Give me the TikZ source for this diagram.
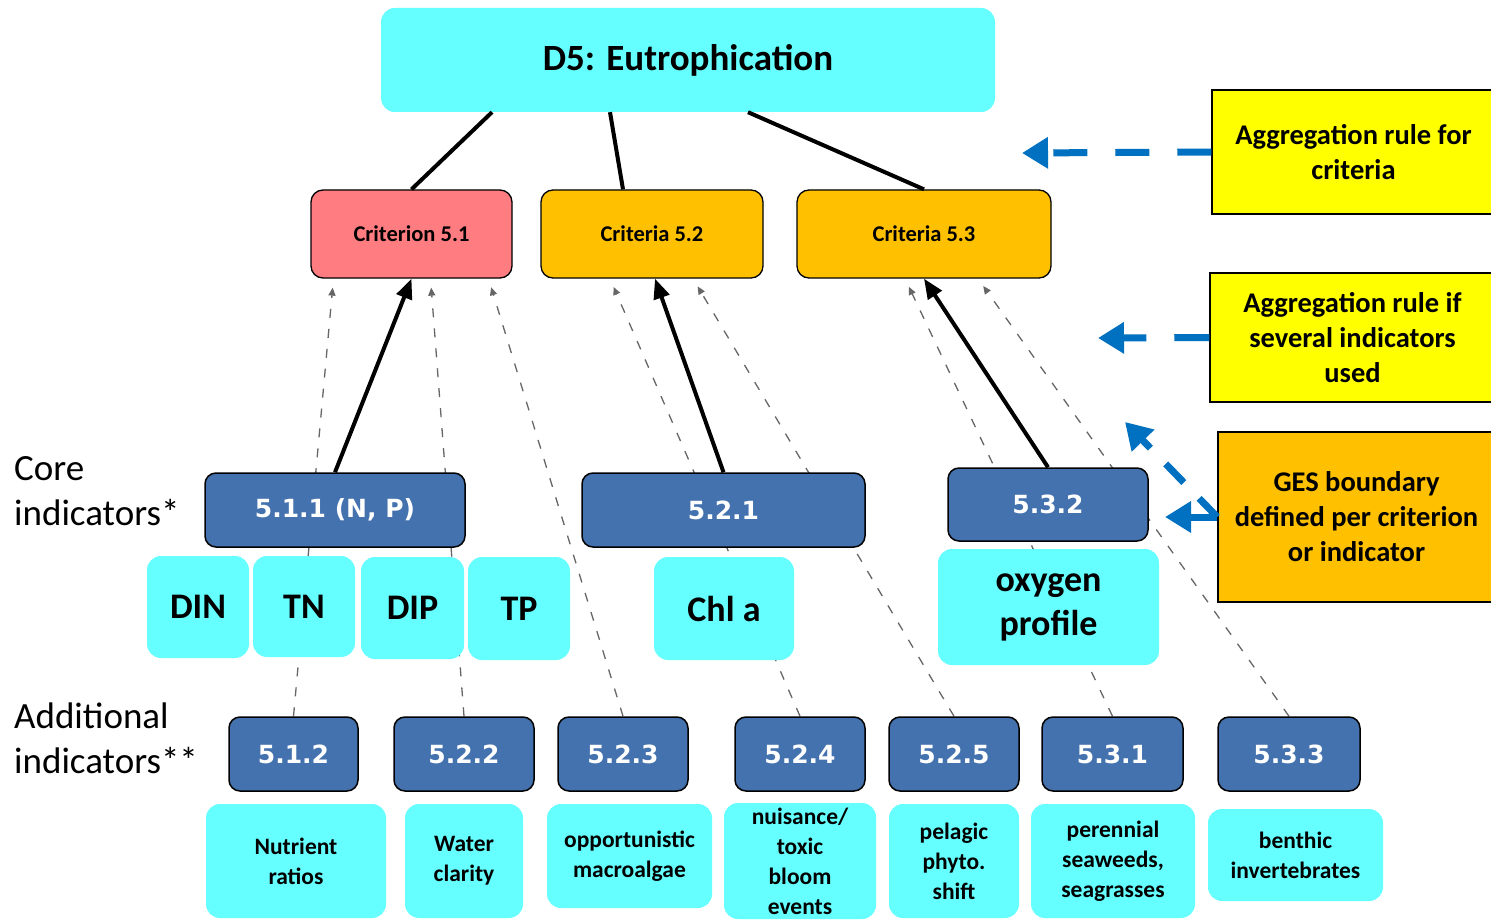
\documentclass[tikz,border=0pt]{standalone}
\usepackage{fontspec}
\setmainfont{Carlito}
\newfontfamily\codefont{DejaVu Sans}
\usetikzlibrary{positioning,arrows.meta,backgrounds}

\definecolor{tagcyan}{RGB}{102,255,255}
\definecolor{critred}{RGB}{255,124,128}
\definecolor{critorange}{RGB}{255,192,0}
\definecolor{indblue}{RGB}{68,114,174}
\definecolor{noteyellow}{RGB}{255,255,0}
\definecolor{noteblue}{RGB}{0,112,192}

\begin{document}
\begin{tikzpicture}[x=1pt, y=-1pt,
        titlebox/.style={fill=tagcyan, rounded corners=14pt, minimum width=614pt, minimum height=104pt, font=\bfseries\fontsize{37}{44}\selectfont},
        critbox/.style={draw, line width=1.3pt, rounded corners=12pt, minimum height=88pt, inner sep=0pt, font=\bfseries\fontsize{22.5}{26}\selectfont},
        indbox/.style={draw, line width=1.5pt, fill=indblue, text=white, rounded corners=11pt, minimum height=74pt, inner sep=0pt, font=\codefont\bfseries\fontsize{25}{30}\selectfont},
        bigtag/.style={fill=tagcyan, rounded corners=14pt, inner sep=0pt, align=center, font=\bfseries\fontsize{36}{44}\selectfont},
        smalltag/.style={fill=tagcyan, rounded corners=14pt, inner sep=0pt, align=center, font=\bfseries\fontsize{23.5}{30}\selectfont},
        notebox/.style={draw, line width=1.5pt, fill=noteyellow, inner sep=0pt, align=center, font=\bfseries\fontsize{28.5}{35}\selectfont},
        rowlabel/.style={anchor=west, align=left, inner sep=0pt, font=\fontsize{37}{45}\selectfont},
        link/.style={line width=4pt},
        rollup/.style={line width=4pt, -{Triangle[length=20pt,width=16pt]}},
        feed/.style={draw=black!60, line width=1.3pt, dash pattern=on 9pt off 11pt, shorten >=9pt, -{Triangle[length=8pt,width=7pt]}},
        pointer/.style={draw=noteblue, line width=7pt, -{Triangle[length=26pt,width=30pt]}}]
    \useasboundingbox (0,0) rectangle (1491,920);

    % Descriptor and criteria
    \node (D5) [titlebox] at (688,60) {D5: Eutrophication};
    \node (C51) [critbox, fill=critred, minimum width=201pt] at (411.5,234) {Criterion 5.1};
    \node (C52) [critbox, fill=critorange, minimum width=222pt] at (652,234) {Criteria 5.2};
    \node (C53) [critbox, fill=critorange, minimum width=254pt] at (924,234) {Criteria 5.3};

    % Core indicators
    \node (I511) [indbox, minimum width=260pt] at (335,510) {5.1.1 (N, P)};
    \node (I521) [indbox, minimum width=283pt] at (723.5,510) {5.2.1};
    \node (I532) [indbox, minimum width=200pt, minimum height=73pt] at (1048,504.5) {5.3.2};

    \node (DIN) [bigtag, minimum width=102pt, minimum height=102pt] at (198,607) {DIN};
    \node (TN) [bigtag, minimum width=102pt, minimum height=101pt] at (304,606.5) {TN};
    \node (DIP) [bigtag, minimum width=103pt, minimum height=102pt] at (412.5,608) {DIP};
    \node (TP) [bigtag, minimum width=102pt, minimum height=103pt] at (519,608.5) {TP};
    \node (CHL) [bigtag, minimum width=140pt, minimum height=103pt] at (724,608.5) {Chl a};
    \node (OXY) [bigtag, minimum width=221pt, minimum height=116pt] at (1048.5,607) {oxygen\\profile};

    % Additional indicators
    \node (I512) [indbox, minimum width=129pt] at (293.5,754) {5.1.2};
    \node (I522) [indbox, minimum width=140pt] at (464,754) {5.2.2};
    \node (I523) [indbox, minimum width=130pt] at (623,754) {5.2.3};
    \node (I524) [indbox, minimum width=130pt] at (800,754) {5.2.4};
    \node (I525) [indbox, minimum width=130pt] at (954,754) {5.2.5};
    \node (I531) [indbox, minimum width=141pt] at (1112.5,754) {5.3.1};
    \node (I533) [indbox, minimum width=142pt] at (1289,754) {5.3.3};

    \node (NUT) [smalltag, minimum width=180pt, minimum height=114pt] at (296,861) {Nutrient\\ratios};
    \node (WAT) [smalltag, minimum width=118pt, minimum height=114pt] at (464,861) {Water\\clarity};
    \node (MAC) [smalltag, minimum width=165pt, minimum height=104pt] at (629.5,856) {opportunistic\\macroalgae};
    \node (BLO) [smalltag, minimum width=152pt, minimum height=116pt] at (800,861) {nuisance/\\toxic\\bloom\\events};
    \node (PEL) [smalltag, minimum width=130pt, minimum height=114pt] at (954,861) {pelagic\\phyto.\\shift};
    \node (PER) [smalltag, minimum width=164pt, minimum height=114pt] at (1113,861) {perennial\\seaweeds,\\seagrasses};
    \node (BEN) [smalltag, minimum width=175pt, minimum height=92pt] at (1295.5,855) {benthic\\invertebrates};

    % Row labels
    \node (core) [rowlabel] at (14,491) {Core\\indicators*};
    \node (additional) [rowlabel] at (14,738) {Additional\\indicators**};

    % Notes on the right
    \node (aggcrit) [notebox, minimum width=283pt, minimum height=124pt] at (1353.5,152) {Aggregation rule for\\criteria};
    \node (aggind) [notebox, minimum width=285pt, minimum height=129pt] at (1352.5,337.5) {Aggregation rule if\\several indicators\\used};
    \node (ges) [notebox, fill=critorange, minimum width=277pt, minimum height=170pt] at (1356.5,517) {GES boundary\\defined per criterion\\or indicator};

    % Tree links
    \draw [link] ([xshift=-196pt]D5.south) -- (C51.north);
    \draw [link] ([xshift=-78pt]D5.south) -- ([xshift=-29pt]C52.north);
    \draw [link] ([xshift=60pt]D5.south) -- (C53.north);

    \draw [rollup] (I511.north) -- (C51.south);
    \draw [rollup] (I521.north) -- ([xshift=3pt]C52.south);
    \draw [rollup] (I532.north) -- (C53.south);

    % Additional indicators, behind the boxes
    \begin{scope}[on background layer]
        \draw [feed] (I512.north) -- ([xshift=-78pt]C51.south);
        \draw [feed] (I522.north) -- ([xshift=19pt]C51.south);
        \draw [feed] (I523.north) -- ([xshift=77pt]C51.south);
        \draw [feed] (I524.north) -- ([xshift=-42pt]C52.south);
        \draw [feed] (I525.north) -- ([xshift=41pt]C52.south);
        \draw [feed] (I531.north) -- ([xshift=-19pt]C53.south);
        \draw [feed] (I533.north) -- ([xshift=54pt]C53.south);
    \end{scope}

    % Pointers from the notes
    \coordinate (critlevel) at (1022,153);
    \coordinate (indlevel) at (1098,338);
    \coordinate (geslevel) at (1125,422);
    \coordinate (gesind) at (1165,517);
    \draw [pointer, dash pattern=on 34pt off 28pt] (aggcrit.west) -- (critlevel);
    \draw [pointer, dash pattern=on 35pt off 28pt] (aggind.west) -- (indlevel);
    \draw [pointer, dash pattern=on 26pt off 22pt] (ges.west) -- (geslevel);
    \draw [pointer] (ges.west) -- (gesind);
\end{tikzpicture}
\end{document}
